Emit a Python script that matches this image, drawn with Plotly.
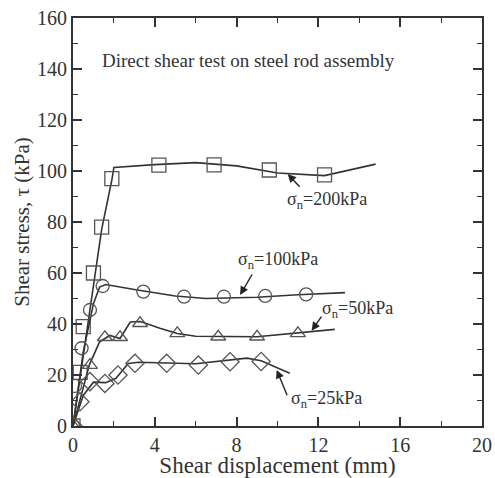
import plotly.graph_objects as go

# ---- data ----
# sigma_n = 200 kPa
d200_x = [0, 0.35, 0.5, 1.0, 1.4, 1.9, 4.2, 6.9, 9.6, 12.3]
d200_y = [0, 21, 39, 60, 78, 97, 102.3, 102.4, 100.4, 98.5]
l200_x = [0, 0.5, 1.0, 1.4, 1.9, 2.0, 4.0, 6.0, 8.0, 10.0, 12.3, 14.8]
l200_y = [0, 28, 56, 77, 96.5, 101.4, 102.5, 103.3, 102.0, 99.2, 98.2, 102.7]

# sigma_n = 100 kPa
d100_x = [0, 0.1, 0.42, 0.83, 1.45, 3.44, 5.43, 7.38, 9.4, 11.4]
d100_y = [0, 15.7, 30.5, 45.5, 54.9, 52.7, 50.7, 50.7, 51.0, 51.6]
l100_x = [0, 0.5, 1.0, 1.3, 1.6, 3.0, 5.0, 6.5, 9.0, 11.0, 13.3]
l100_y = [0, 29, 48, 54.5, 55.5, 53.5, 51.0, 50.0, 50.5, 51.5, 52.3]

# sigma_n = 50 kPa
d50_x = [0, 0.83, 1.56, 2.3, 3.28, 5.1, 7.1, 9.0, 11.0]
d50_y = [0, 23.9, 34.8, 34.8, 40.3, 36.3, 35.0, 35.0, 36.3]
l50_x = [0, 0.8, 1.3, 1.8, 2.3, 2.8, 3.3, 3.8, 4.25, 5.1, 6.0, 9.0, 11.0, 12.8]
l50_y = [0, 24, 33, 35.5, 34.3, 40.8, 41.0, 39.5, 38.3, 36.3, 35.2, 35.0, 36.5, 37.9]

# sigma_n = 25 kPa
d25_x = [0, 0.34, 0.83, 1.56, 2.2, 3.03, 4.58, 6.13, 7.68, 9.2]
d25_y = [0, 9.5, 17.4, 16.7, 20.0, 24.6, 24.6, 23.9, 25.2, 25.3]
l25_x = [0, 0.5, 1.0, 1.6, 2.1, 2.7, 3.2, 6.0, 8.5, 9.2, 10.6]
l25_y = [0, 12, 17.2, 17.0, 18.7, 24.5, 25.0, 24.4, 26.6, 25.6, 20.7]

x_ticks = [0, 4, 8, 12, 16, 20]
y_ticks = [0, 20, 40, 60, 80, 100, 120, 140, 160]

INK = "#333333"
MK = "#555555"
SERIF = "Liberation Serif, Times New Roman, serif"

fig = go.Figure()

series = [
    (l200_x, l200_y, d200_x, d200_y, "square-open", 14, "200"),
    (l100_x, l100_y, d100_x, d100_y, "circle-open", 13, "100"),
    (l50_x, l50_y, d50_x, d50_y, "triangle-up-open", 13, "50"),
    (l25_x, l25_y, d25_x, d25_y, "diamond-open", 14, "25"),
]
for lx, ly, mx, my, sym, sz, name in series:
    fig.add_trace(go.Scatter(x=lx, y=ly, mode="lines",
                             line=dict(color=INK, width=1.6),
                             showlegend=False, hoverinfo="skip"))
    fig.add_trace(go.Scatter(x=mx, y=my, mode="markers", name=name,
                             marker=dict(symbol=sym, size=sz, color=MK,
                                         line=dict(color=MK, width=1.3)),
                             showlegend=False))

# labels with arrows: (tip x, tip y, tail x, tail y, label x, label y, text)
labels = [
    (10.5, 98.8, 11.15, 93.2, 12.4, 88.6, "σ<sub>n</sub>=200kPa"),
    (8.17, 51.4, 8.8, 60.0, 10.0, 65.0, "σ<sub>n</sub>=100kPa"),
    (11.67, 37.4, 12.2, 43.5, 13.9, 45.5, "σ<sub>n</sub>=50kPa"),
    (9.96, 22.0, 10.5, 11.5, 12.4, 10.2, "σ<sub>n</sub>=25kPa"),
]
for tx, ty, ax_, ay_, lx, ly, txt in labels:
    fig.add_annotation(x=tx, y=ty, ax=ax_, ay=ay_, xref="x", yref="y",
                       axref="x", ayref="y", text="", showarrow=True,
                       arrowhead=2, arrowsize=1.2, arrowwidth=1.4, arrowcolor="#222222")
    fig.add_annotation(x=lx, y=ly, xref="x", yref="y", text=txt, showarrow=False,
                       font=dict(family=SERIF, size=18, color=INK))

fig.add_annotation(x=1.3, y=143.5, xref="x", yref="y", xanchor="left",
                   text="Direct shear test on steel rod assembly", showarrow=False,
                   font=dict(family=SERIF, size=19, color=INK))

axis_common = dict(showline=True, linecolor=INK, linewidth=2, mirror="allticks",
                   ticks="inside", ticklen=9, tickwidth=1.6, tickcolor=INK,
                   showgrid=False, zeroline=False, automargin=False,
                   ticklabeloverflow="allow",
                   tickfont=dict(family=SERIF, size=20, color=INK))

fig.update_xaxes(range=[0, 20], tickvals=x_ticks,
                 minor=dict(dtick=2, ticks="inside", ticklen=5, tickwidth=1.4, tickcolor=INK),
                 title=dict(text="Shear displacement (mm)", standoff=8,
                            font=dict(family=SERIF, size=23, color=INK)),
                 **axis_common)
fig.update_yaxes(range=[0, 160], tickvals=y_ticks,
                 minor=dict(dtick=10, ticks="inside", ticklen=5, tickwidth=1.4, tickcolor=INK),
                 title=dict(text="Shear stress, τ (kPa)", standoff=2,
                            font=dict(family=SERIF, size=21, color=INK)),
                 **axis_common)

fig.update_layout(width=495, height=478, margin=dict(l=73, r=13, t=18, b=52),
                  plot_bgcolor="white", paper_bgcolor="white")

# remove the default 8 px page margin so the figure fills the window exactly
fig.write_html("out.html", config={"displayModeBar": False},
               post_script="document.body.style.margin='0';")
